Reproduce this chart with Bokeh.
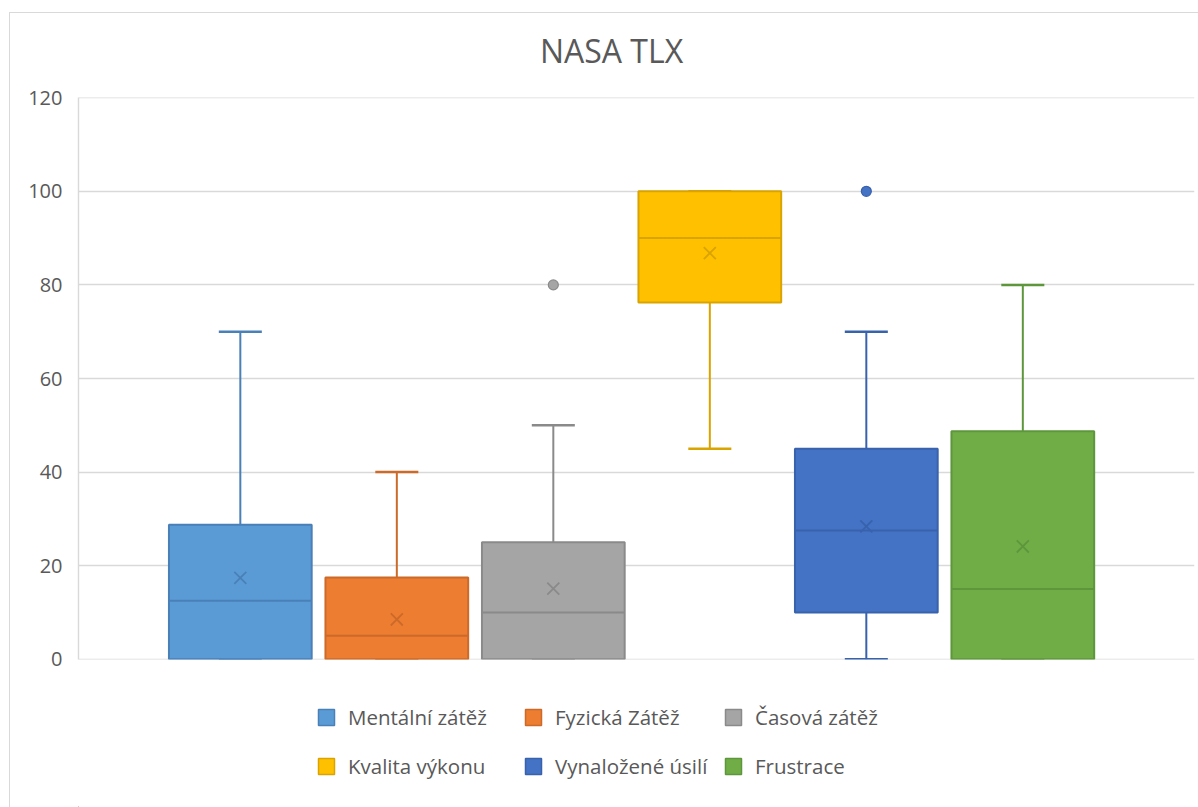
from bokeh.plotting import figure
from bokeh.layouts import column
from bokeh.core.properties import value
from bokeh.models import (ColumnDataSource, Legend, LegendItem, FixedTicker, Range1d)
from bokeh.embed import file_html
from bokeh.resources import INLINE

# ---- data ----
title = "NASA TLX"
categories = ["Mentální zátěž", "Fyzická Zátěž", "Časová zátěž",
              "Kvalita výkonu", "Vynaložené úsilí", "Frustrace"]
q1 = [0, 0, 0, 76.25, 10, 0]
medians = [12.5, 5, 10, 90, 27.5, 15]
q3 = [28.75, 17.5, 25, 100, 45, 48.75]
whisker_low = [0, 0, 0, 45, 0, 0]
whisker_high = [70, 40, 50, 100, 70, 80]
means = [17.4, 8.5, 15.1, 86.8, 28.4, 24.1]
outlier_series = ["Časová zátěž", "Vynaložené úsilí"]
outlier_values = [80, 100]
y_ticks = [0, 20, 40, 60, 80, 100, 120]

fill_colors = ["#5B9BD5", "#ED7D31", "#A5A5A5", "#FFC000", "#4472C4", "#70AD47"]
line_colors = ["#4A80B8", "#CC6A2A", "#8A8A8A", "#D9A300", "#3862AC", "#5E963C"]

FONT = "Open Sans"
TEXT = "#595959"
GRID = "#D9D9D9"
W = 1188

pos = list(range(len(categories)))
box_w = 0.912
cap_half = 0.1375

src = ColumnDataSource(dict(
    x=pos, q1=q1, q3=q3, med=medians, lo=whisker_low, hi=whisker_high,
    mean=means, fill=fill_colors, line=line_colors,
    cap0=[p_ - cap_half for p_ in pos], cap1=[p_ + cap_half for p_ in pos],
    bl=[p_ - box_w / 2 for p_ in pos], br=[p_ + box_w / 2 for p_ in pos],
))

out_x = [categories.index(c) for c in outlier_series]
out_src = ColumnDataSource(dict(
    x=out_x, y=outlier_values,
    fill=[fill_colors[i] for i in out_x], line=[line_colors[i] for i in out_x]))

# ---- title strip (layout-only figure, pixel-like ranges) ----
head = figure(width=W, height=64, output_backend="svg", toolbar_location=None,
              x_range=Range1d(0, 1116), y_range=Range1d(0, 64),
              x_axis_location=None, y_axis_location=None,
              min_border_left=68, min_border_right=4, min_border_top=0, min_border_bottom=0)
head.outline_line_color = None
head.xgrid.grid_line_color = None
head.ygrid.grid_line_color = None
head.text(x=[533], y=[27], text=[title], text_align="center", text_baseline="middle",
          text_font=value(FONT), text_font_size="32px", text_color=TEXT)

# ---- main box plot ----
p = figure(width=W, height=603, output_backend="svg", toolbar_location=None,
           x_range=Range1d(-1.034, 6.097), y_range=Range1d(-0.05, 120.05),
           x_axis_location=None, min_border_left=68, min_border_right=4,
           min_border_top=20, min_border_bottom=21)
p.outline_line_color = None
p.background_fill_color = "white"
p.border_fill_color = "white"

p.xgrid.grid_line_color = None
p.ygrid.grid_line_color = GRID
p.ygrid.grid_line_width = 1.4
p.yaxis.ticker = FixedTicker(ticks=y_ticks)
p.yaxis.axis_line_color = GRID
p.yaxis.axis_line_width = 1.4
p.yaxis.major_tick_line_color = None
p.yaxis.minor_tick_line_color = None
p.yaxis.major_tick_out = 0
p.yaxis.major_label_standoff = 16
p.yaxis.major_label_text_font = FONT
p.yaxis.major_label_text_font_size = "20px"
p.yaxis.major_label_text_color = TEXT

# whiskers
p.segment(x0="x", y0="q3", x1="x", y1="hi", source=src, line_color="line", line_width=2)
p.segment(x0="x", y0="q1", x1="x", y1="lo", source=src, line_color="line", line_width=2)
p.segment(x0="cap0", y0="hi", x1="cap1", y1="hi", source=src, line_color="line", line_width=2.5)
p.segment(x0="cap0", y0="lo", x1="cap1", y1="lo", source=src, line_color="line", line_width=2.5)

# boxes
boxes = p.vbar(x="x", width=box_w, bottom="q1", top="q3", source=src,
               fill_color="fill", line_color="line", line_width=2)
# medians
p.segment(x0="bl", y0="med", x1="br", y1="med", source=src, line_color="line", line_width=2)
# means
p.scatter(x="x", y="mean", source=src, marker="x", size=17, line_color="line", line_width=1.8)
# outliers
p.scatter(x="x", y="y", source=out_src, marker="circle", size=10,
          fill_color="fill", line_color="line", line_width=1.2)

# ---- legend strip (holds an off-range copy of the boxes so the legend can reference them) ----
leg = figure(width=W, height=127, output_backend="svg", toolbar_location=None,
             x_range=Range1d(100, 101), y_range=Range1d(100, 101),
             x_axis_location=None, y_axis_location=None,
             min_border_left=68, min_border_top=0, min_border_right=4, min_border_bottom=0)
leg.outline_line_color = None
leg.xgrid.grid_line_color = None
leg.ygrid.grid_line_color = None
leg_boxes = leg.vbar(x="x", width=box_w, bottom="q1", top="q3", source=src,
                     fill_color="fill", line_color="line", line_width=1.5)

# three legend columns (Excel layout: 3 columns x 2 rows)
col_x = [238, 445, 645]
for c in range(3):
    idx = [c, c + 3]
    items = [LegendItem(label=categories[i], renderers=[leg_boxes], index=i) for i in idx]
    lg = Legend(items=items, orientation="vertical",
                location=(col_x[c], 27), glyph_width=20, glyph_height=20,
                label_standoff=12, spacing=21, padding=0, margin=0,
                label_text_font=FONT, label_text_font_size="20.5px",
                label_text_color=TEXT, border_line_color=None,
                background_fill_alpha=0)
    leg.add_layout(lg, "center")

layout = column(head, p, leg, spacing=0)
layout.styles = {"margin-left": "9px", "margin-top": "12px",
                 "border-left": "1px solid #D9D9D9", "border-top": "1px solid #D9D9D9"}

open("out.html", "w").write(file_html(layout, INLINE))
